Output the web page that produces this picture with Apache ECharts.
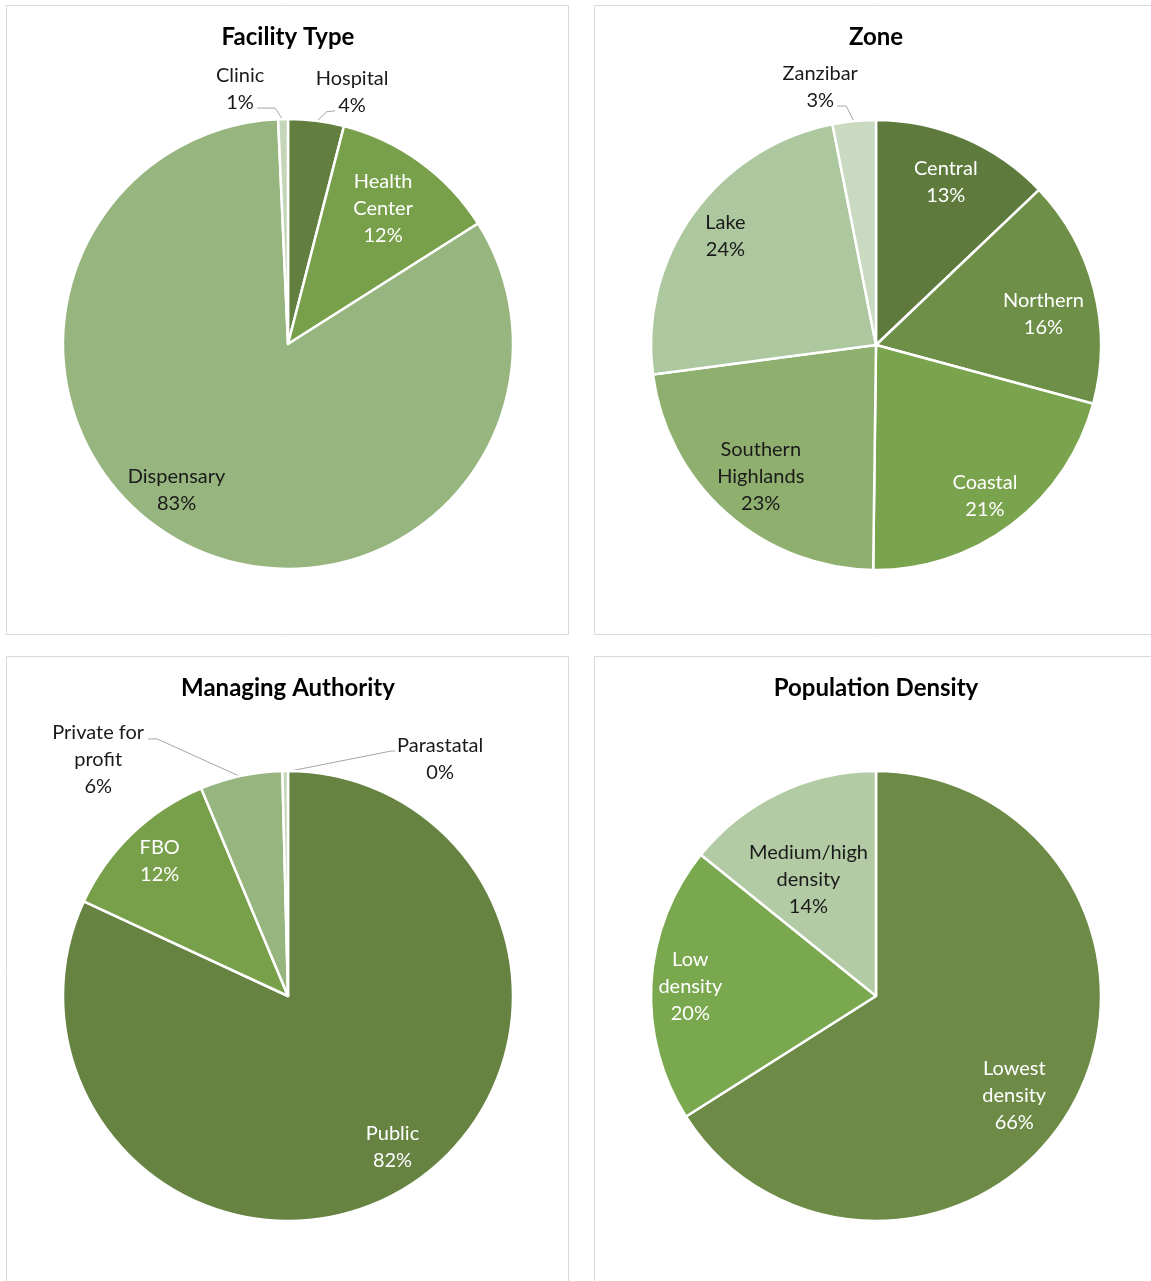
<!DOCTYPE html>
<html><head><meta charset="utf-8">
<script src="https://cdn.jsdelivr.net/npm/echarts@6/dist/echarts.min.js"></script>
<style>html,body{margin:0;padding:0;background:#fff}#c{width:1151px;height:1281px}</style>
</head><body><div id="c"></div>
<script>
// ---------- DATA ----------
const facilityCategories = ['Hospital', 'Health Center', 'Dispensary', 'Clinic'];
const facilityValues = [4.0, 12.0, 83.3, 0.7];
const facilityLabelText = ['Hospital', 'Health\nCenter', 'Dispensary', 'Clinic'];

const zoneCategories = ['Central', 'Northern', 'Coastal', 'Southern Highlands', 'Lake', 'Zanzibar'];
const zoneValues = [12.9, 16.3, 21.0, 22.7, 24.0, 3.1];
const zoneLabelText = ['Central', 'Northern', 'Coastal', 'Southern\nHighlands', 'Lake', 'Zanzibar'];

const managingCategories = ['Public', 'FBO', 'Private for profit', 'Parastatal'];
const managingValues = [81.9, 11.8, 5.9, 0.4];
const managingLabelText = ['Public', 'FBO', 'Private for\nprofit', 'Parastatal'];

const densityCategories = ['Lowest density', 'Low density', 'Medium/high density'];
const densityValues = [66.0, 19.8, 14.2];
const densityLabelText = ['Lowest\ndensity', 'Low\ndensity', 'Medium/high\ndensity'];

const chartTitles = ['Facility Type', 'Zone', 'Managing Authority', 'Population Density'];

// ---------- STYLE / LAYOUT ----------
const R = 225;
const FONT = 'Lato, "Open Sans", sans-serif';
const WHITE = '#ffffff', DARK = '#1a1a1a';
const charts = [
  {
    title: chartTitles[0], names: facilityCategories, values: facilityValues, text: facilityLabelText,
    center: [288, 344], titlePos: [288, 25],
    colors: ['#627f3f', '#78a04b', '#97b57f', '#c5d6b8'],
    textColors: [DARK, WHITE, DARK, DARK],
    inside: { 1: [0.74, -1], 2: [0.82, 9.8] },
    outside: {
      0: { bend: [10.6, -10], end: [19, -11], label: [36, -30] },
      3: { bend: [-8, -12], end: [-26, -12], label: [-43, -31] }
    }
  },
  {
    title: chartTitles[1], names: zoneCategories, values: zoneValues, text: zoneLabelText,
    center: [876, 345], titlePos: [876, 25],
    colors: ['#5e7a3c', '#6d8f47', '#7aa34e', '#8faf6f', '#adc79e', '#c9dac0'],
    textColors: [WHITE, WHITE, WHITE, DARK, DARK, DARK],
    inside: { 0: [0.79, 0], 1: [0.76, 3.9], 2: [0.83, 1.2], 3: [0.78, -0.3], 4: [0.83, 0.3] },
    outside: {
      5: { bend: [-8, -16], end: [-17, -16], label: [-34, -35] }
    }
  },
  {
    title: chartTitles[2], names: managingCategories, values: managingValues, text: managingLabelText,
    center: [288, 996], titlePos: [288, 676],
    colors: ['#668341', '#78a04b', '#97b57f', '#c5d6b8'],
    textColors: [WHITE, WHITE, DARK, DARK],
    inside: { 0: [0.82, -2.1], 1: [0.83, 0.3] },
    outside: {
      2: { bend: [-84, -38], end: [-93, -38], label: [-143, -17] },
      3: { bend: [106, -21], end: [110, -21], label: [155, -13] }
    }
  },
  {
    title: chartTitles[3], names: densityCategories, values: densityValues, text: densityLabelText,
    center: [876, 996], titlePos: [876, 676],
    colors: ['#6d8b47', '#79a84f', '#b3cba4'],
    textColors: [WHITE, WHITE, DARK],
    inside: { 0: [0.76, 6.9], 1: [0.83, -0.4], 2: [0.6, -4.6] },
    outside: {}
  }
];

function midAngles(values) {
  const total = values.reduce((a, b) => a + b, 0);
  let acc = 0;
  return values.map(v => { const m = (acc + v / 2) / total * 360; acc += v; return m; });
}

function polar(center, r, deg) {
  const a = deg * Math.PI / 180;
  return [center[0] + r * Math.sin(a), center[1] - r * Math.cos(a)];
}

const series = charts.map((c, ci) => {
  const mids = midAngles(c.values);
  return {
    type: 'pie',
    center: c.center,
    radius: R,
    startAngle: 90,
    clockwise: true,
    avoidLabelOverlap: false,
    silent: true,
    itemStyle: { borderColor: '#ffffff', borderWidth: 2.5 },
    label: {
      show: true,
      fontFamily: FONT,
      fontSize: 20,
      lineHeight: 27,
      align: 'center',
      formatter: p => c.text[p.dataIndex] + '\n' + Math.round(p.percent) + '%'
    },
    labelLine: { show: true, lineStyle: { color: '#a6a6a6', width: 1 } },
    labelLayout: function (p) {
      const i = p.dataIndex;
      const o = c.outside[i];
      if (o) {
        const p0 = polar(c.center, R - 1, mids[i]);
        return {
          x: p0[0] + o.label[0], y: p0[1] + o.label[1],
          align: 'center', verticalAlign: 'middle',
          labelLinePoints: [p0, [p0[0] + o.bend[0], p0[1] + o.bend[1]], [p0[0] + o.end[0], p0[1] + o.end[1]]]
        };
      }
      const s = c.inside[i] || [0.8, 0];
      const pt = polar(c.center, 224 * s[0], mids[i] + s[1]);
      return { x: pt[0], y: pt[1], align: 'center', verticalAlign: 'middle' };
    },
    data: c.values.map((v, i) => ({
      name: c.names[i],
      value: v,
      itemStyle: { color: c.colors[i] },
      label: { position: c.outside[i] ? 'outside' : 'inside', color: c.textColors[i] },
      labelLine: { show: !!c.outside[i] }
    }))
  };
});

const titles = charts.map(c => ({
  text: c.title,
  left: c.titlePos[0],
  top: c.titlePos[1],
  padding: 0,
  textAlign: 'center',
  textStyle: { fontFamily: FONT, fontSize: 24, fontWeight: 'bold', color: '#000000' }
}));

const borderStyle = { fill: 'none', stroke: '#d9d9d9', lineWidth: 1 };
const graphic = [
  { type: 'rect', shape: { x: 6.5, y: 5.5, width: 562, height: 629 }, style: borderStyle, silent: true },
  { type: 'rect', shape: { x: 594.5, y: 5.5, width: 580, height: 629 }, style: borderStyle, silent: true },
  { type: 'rect', shape: { x: 6.5, y: 656.5, width: 562, height: 700 }, style: borderStyle, silent: true },
  { type: 'rect', shape: { x: 594.5, y: 656.5, width: 580, height: 700 }, style: borderStyle, silent: true }
];

const chart = echarts.init(document.getElementById('c'), null, { renderer: 'canvas' });
chart.setOption({
  animation: false,
  backgroundColor: '#ffffff',
  title: titles,
  graphic: graphic,
  series: series
});
</script>
</body></html>
